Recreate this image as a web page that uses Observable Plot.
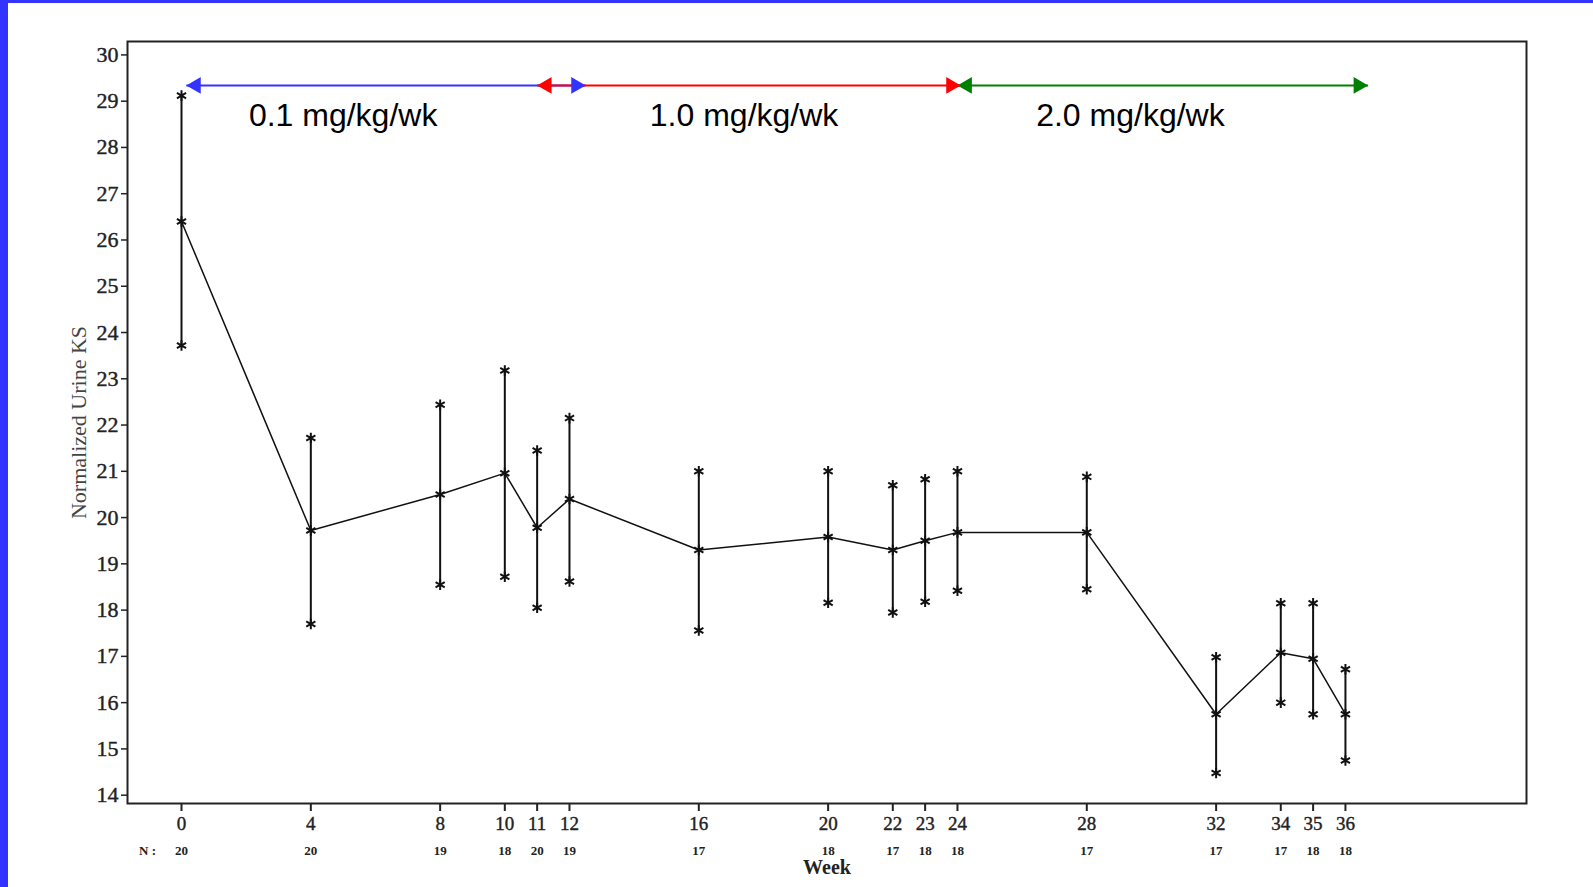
<!DOCTYPE html>
<html>
<head>
<meta charset="utf-8">
<script src="https://cdn.jsdelivr.net/npm/d3@7"></script>
<script src="https://cdn.jsdelivr.net/npm/@observablehq/plot@0.6"></script>
<style>
  html, body { margin: 0; padding: 0; background: #ffffff; }
  #chart { position: absolute; left: 0; top: 0; }
  .strip { position: absolute; background: #3333ff; z-index: 5; }
  #chart g[aria-label="y-axis tick label"] text,
  #chart g[aria-label="x-axis tick label"] text { stroke: #222; stroke-width: 0.4px; }
</style>
</head>
<body>
<div class="strip" style="left:0;top:0;width:8px;height:887px"></div>
<div class="strip" style="left:0;top:0;width:1593px;height:3px"></div>
<div id="chart"></div>
<script>
// ---- data ----
const weeks  = [0, 4, 8, 10, 11, 12, 16, 20, 22, 23, 24, 28, 32, 34, 35, 36];
const means  = [26.4, 19.72, 20.5, 20.96, 19.78, 20.4, 19.3, 19.58, 19.3, 19.5, 19.68, 19.68, 15.75, 17.08, 16.95, 15.75];
const uppers = [29.12, 21.72, 22.44, 23.18, 21.45, 22.15, 21.0, 21.0, 20.7, 20.83, 21.0, 20.88, 16.98, 18.15, 18.15, 16.72];
const lowers = [23.72, 17.7, 18.55, 18.72, 18.05, 18.62, 17.56, 18.16, 17.95, 18.18, 18.42, 18.45, 14.48, 16.0, 15.75, 14.75];
const nCounts = [20, 20, 19, 18, 20, 19, 17, 18, 17, 18, 18, 17, 17, 17, 18, 18];
const yTicks = d3.range(14, 31);

const doseLabels = ["0.1 mg/kg/wk", "1.0 mg/kg/wk", "2.0 mg/kg/wk"];
const doseStart  = [0.15, 11, 24];
const doseEnd    = [12.5, 24.1, 36.7];
const doseColors = ["#3333ff", "#ff0000", "#008000"];
const doseLabelX = [5.0, 17.4, 29.35];
const arrowY = 29.34;
const doseLabelY = 28.68;

// ---- tables built from arrays ----
const data = weeks.map((w, i) => ({week: w, mean: means[i], upper: uppers[i], lower: lowers[i], n: nCounts[i]}));
const doses = doseLabels.map((l, i) => ({label: l, x1: doseStart[i], x2: doseEnd[i], color: doseColors[i], lx: doseLabelX[i], y: arrowY}));

const serif = "'Liberation Serif', 'Times New Roman', serif";
const sans = "'Liberation Sans', Arial, sans-serif";

const chart = Plot.plot({
  width: 1593,
  height: 887,
  marginLeft: 127,
  marginRight: 67,
  marginTop: 41,
  marginBottom: 84,
  style: {background: "transparent", color: "#111", fontFamily: serif},
  x: {domain: [-1.67, 41.6]},
  y: {domain: [13.82, 30.29]},
  marks: [
    Plot.axisY({ticks: yTicks, tickSize: 6, tickPadding: 3, fontSize: 22, label: null, stroke: "#222", strokeWidth: 1.5, fill: "#222"}),
    Plot.axisX({ticks: weeks, tickSize: 8, tickPadding: 5, fontSize: 19, label: null, stroke: "#222", strokeWidth: 2, fill: "#222", tickFormat: d => String(d)}),
    Plot.frame({stroke: "#222", strokeWidth: 2}),
    // N row
    Plot.text(data, {x: "week", text: d => String(d.n), frameAnchor: "bottom", lineAnchor: "middle", dy: 47, fontSize: 13, fontWeight: "bold", fill: "#222"}),
    Plot.text(["N :"], {frameAnchor: "bottom-left", lineAnchor: "middle", textAnchor: "middle", dx: 20, dy: 47, fontSize: 13, fontWeight: "bold", fill: "#222"}),
    // axis titles
    Plot.text(["Week"], {frameAnchor: "bottom", lineAnchor: "middle", dy: 64, fontSize: 20, fontWeight: "bold", fill: "#222"}),
    Plot.text(["Normalized Urine KS"], {frameAnchor: "left", textAnchor: "middle", lineAnchor: "middle", dx: -49, rotate: -90, fontSize: 22, fill: "#444"}),
    // dose arrows: lines first, then heads
    Plot.link(doses, {x1: "x1", x2: "x2", y1: "y", y2: "y", stroke: "color", strokeWidth: 2}),
    Plot.dot(doses, {x: "x1", y: "y", symbol: "triangle", rotate: -90, r: 6.2, fill: "color", stroke: null, dx: 9.6}),
    Plot.dot(doses, {x: "x2", y: "y", symbol: "triangle", rotate: 90, r: 6.2, fill: "color", stroke: null, dx: -9.6}),
    Plot.text(doses, {x: "lx", y: () => doseLabelY, text: "label", fontSize: 32, fontFamily: sans, fill: "#000", textAnchor: "middle"}),
    // data
    Plot.ruleX(data, {x: "week", y1: "lower", y2: "upper", stroke: "#111", strokeWidth: 2}),
    Plot.line(data, {x: "week", y: "mean", stroke: "#111", strokeWidth: 1.5}),
    Plot.dot(data, {x: "week", y: "mean", symbol: "asterisk", r: 5, stroke: "#111", strokeWidth: 2}),
    Plot.dot(data, {x: "week", y: "upper", symbol: "asterisk", r: 5, stroke: "#111", strokeWidth: 2}),
    Plot.dot(data, {x: "week", y: "lower", symbol: "asterisk", r: 5, stroke: "#111", strokeWidth: 2})
  ]
});
document.getElementById("chart").appendChild(chart);
</script>
</body>
</html>
